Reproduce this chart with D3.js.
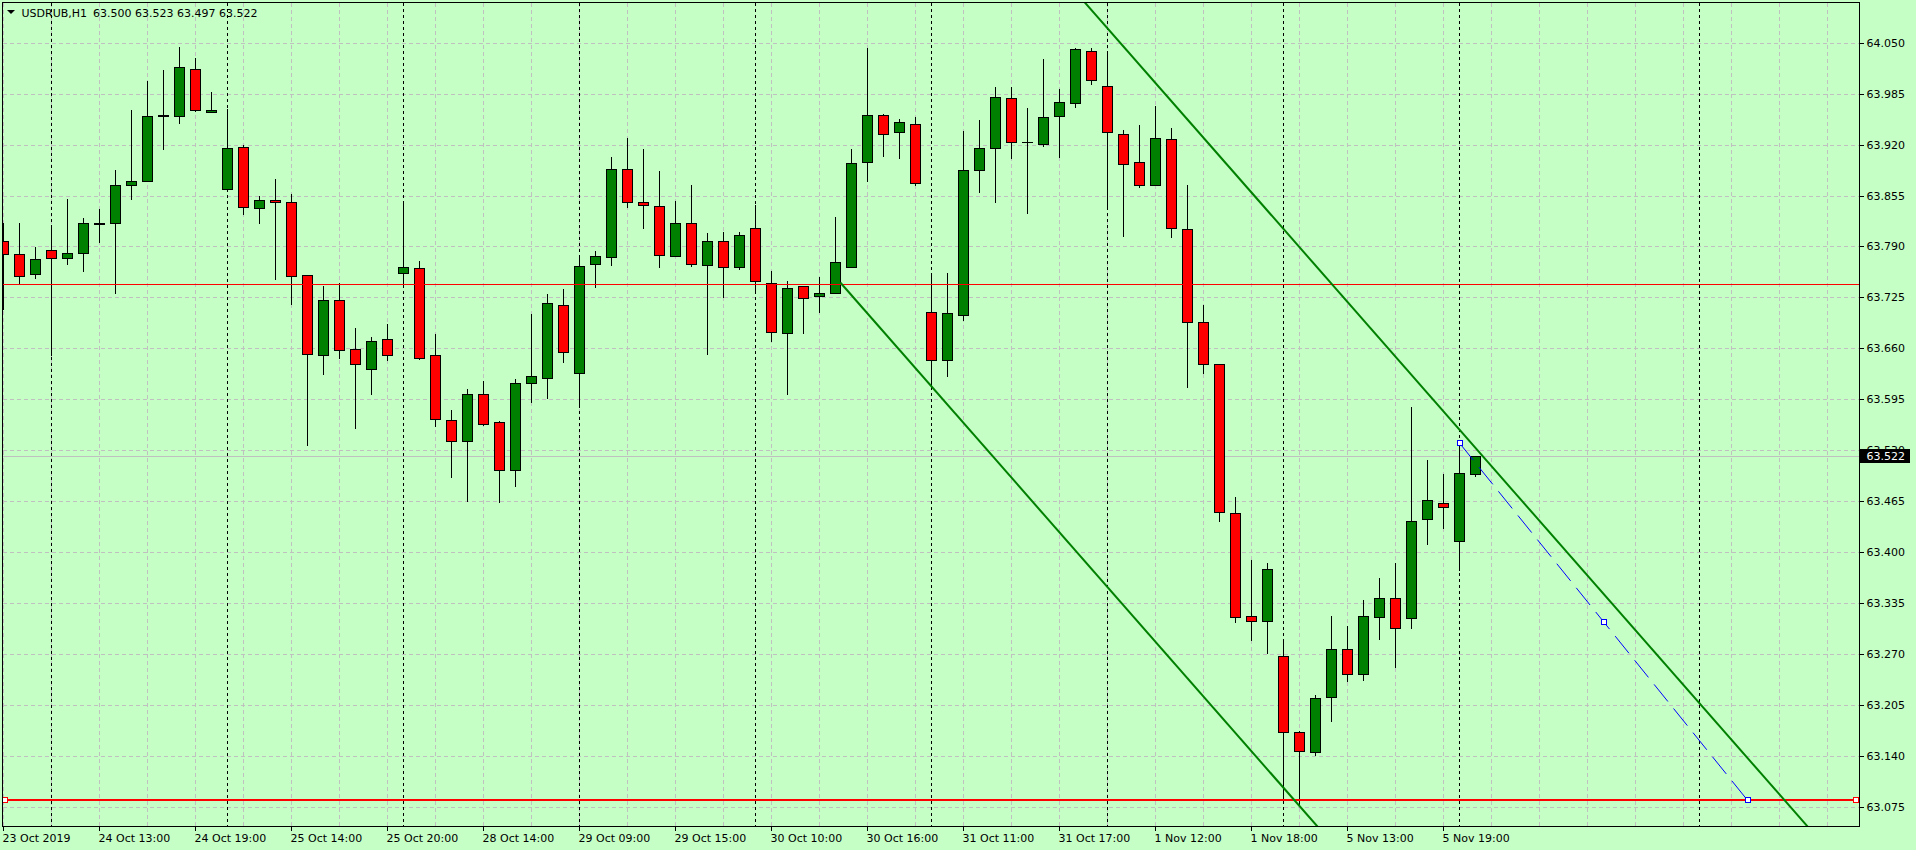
<!DOCTYPE html>
<html><head><meta charset="utf-8">
<script src="https://cdn.jsdelivr.net/npm/d3@7"></script>
<style>
html,body{margin:0;padding:0;background:#c6ffc6;overflow:hidden}
svg{display:block}
text{font-family:"DejaVu Sans",sans-serif;font-size:11px;fill:#000}
</style></head><body>
<svg id="chart" width="1916" height="850"></svg>
<script>
// ---------------- DATA ----------------
const symbolTitle = "USDRUB,H1";
const titleQuote = ["63.500", "63.523", "63.497", "63.522"];

const opens  = [63.797,63.780,63.755,63.786,63.775,63.782,63.819,63.820,63.869,63.874,
                63.957,63.957,64.016,63.962,63.863,63.917,63.839,63.849,63.847,63.754,
                63.652,63.721,63.659,63.634,63.672,63.756,63.763,63.652,63.568,63.542,
                63.601,63.566,63.505,63.616,63.622,63.715,63.628,63.767,63.777,63.889,
                63.847,63.842,63.778,63.820,63.766,63.797,63.764,63.813,63.743,63.679,
                63.739,63.727,63.730,63.764,63.898,63.958,63.936,63.946,63.706,63.645,
                63.703,63.887,63.916,63.980,63.923,63.921,63.957,63.973,64.040,63.995,
                63.933,63.898,63.868,63.927,63.812,63.693,63.640,63.450,63.318,63.312,
                63.267,63.170,63.145,63.215,63.276,63.244,63.317,63.341,63.316,63.442,
                63.463,63.414,63.500];
const highs  = [63.821,63.821,63.790,63.817,63.852,63.828,63.839,63.889,63.966,64.002,
                64.016,64.046,64.032,63.988,63.967,63.921,63.856,63.878,63.858,63.754,
                63.741,63.744,63.687,63.676,63.692,63.845,63.773,63.680,63.583,63.609,
                63.620,63.569,63.622,63.705,63.730,63.737,63.779,63.786,63.905,63.930,
                63.916,63.887,63.849,63.870,63.808,63.810,63.810,63.844,63.760,63.747,
                63.741,63.752,63.829,63.916,64.044,63.961,63.954,63.957,63.757,63.758,
                63.939,63.953,63.995,63.995,63.968,64.030,63.992,64.044,64.044,64.041,
                63.940,63.946,63.970,63.943,63.870,63.716,63.640,63.471,63.391,63.387,
                63.286,63.173,63.218,63.320,63.307,63.340,63.368,63.387,63.586,63.519,
                63.501,63.539,63.523];
const lows   = [63.710,63.743,63.750,63.651,63.768,63.759,63.796,63.730,63.851,63.874,
                63.914,63.947,63.963,63.962,63.863,63.832,63.820,63.748,63.716,63.537,
                63.627,63.648,63.558,63.602,63.645,63.738,63.646,63.561,63.496,63.465,
                63.562,63.464,63.484,63.591,63.596,63.643,63.586,63.738,63.766,63.840,
                63.813,63.764,63.778,63.765,63.653,63.725,63.761,63.732,63.669,63.602,
                63.680,63.706,63.730,63.764,63.874,63.905,63.903,63.869,63.613,63.625,
                63.696,63.860,63.847,63.903,63.833,63.918,63.904,63.968,63.997,63.838,
                63.803,63.866,63.868,63.802,63.611,63.629,63.440,63.310,63.287,63.271,
                63.085,63.077,63.141,63.184,63.235,63.236,63.289,63.253,63.303,63.410,
                63.430,63.377,63.497];
const closes = [63.780,63.752,63.774,63.775,63.782,63.820,63.820,63.869,63.874,63.957,
                63.958,64.019,63.964,63.964,63.916,63.841,63.849,63.847,63.752,63.653,
                63.722,63.658,63.640,63.669,63.651,63.764,63.648,63.570,63.542,63.601,
                63.563,63.505,63.616,63.624,63.718,63.655,63.765,63.778,63.889,63.847,
                63.843,63.779,63.820,63.768,63.797,63.764,63.804,63.746,63.681,63.737,
                63.724,63.730,63.770,63.896,63.958,63.934,63.949,63.871,63.645,63.705,
                63.888,63.916,63.981,63.923,63.923,63.955,63.975,64.042,64.002,63.936,
                63.895,63.868,63.928,63.813,63.694,63.640,63.451,63.317,63.312,63.378,
                63.170,63.146,63.214,63.276,63.244,63.318,63.341,63.303,63.439,63.466,
                63.458,63.501,63.522];

const timeLabelBars = [0, 6, 12, 18, 24, 30, 36, 42, 48, 54, 60, 66, 72, 78, 84, 90];
const timeLabels = ["23 Oct 2019", "24 Oct 13:00", "24 Oct 19:00", "25 Oct 14:00",
                    "25 Oct 20:00", "28 Oct 14:00", "29 Oct 09:00", "29 Oct 15:00",
                    "30 Oct 10:00", "30 Oct 16:00", "31 Oct 11:00", "31 Oct 17:00",
                    "1 Nov 12:00", "1 Nov 18:00", "5 Nov 13:00", "5 Nov 19:00"];
const separatorBars = [3, 14, 25, 36, 47, 58, 69, 80, 91, 106];
const gridBars = d3.range(0, 116, 3);
const priceTicks = [64.050, 63.985, 63.920, 63.855, 63.790, 63.725, 63.660, 63.595,
                    63.530, 63.465, 63.400, 63.335, 63.270, 63.205, 63.140, 63.075];
const bidPrice = 63.522;

// horizontal lines: [price, fromBar, toBar]
const thinRedLine = [63.742, -1, 120];
const thickRedLine = [63.083, 0.1, 115.8];
// equidistant channel: base line two anchors + offset
const channelBars = [52.3, 80];
const channelPrices = [63.744, 63.0989];
const channelOffset = 0.7134;
// blue dashed line points
const blueBars = [91, 100, 109];
const bluePrices = [63.539, 63.311, 63.083];

// ---------------- LAYOUT ----------------
const W = 1916, H = 850;
const plot = {l: 2.5, t: 2.5, r: 1859.5, b: 826.5};
const svg = d3.select("#chart");
svg.append("rect").attr("width", W).attr("height", H).attr("fill", "#c6ffc6");

const x = d3.scaleLinear().domain([0, 1]).range([3.5, 19.5]);
const y = d3.scaleLinear().domain([63.075, 64.050]).range([806.5, 42.8]);
const py = v => Math.round(y(v)) + 0.5;
const px = i => Math.round(x(i) - 0.5) + 0.5;

svg.append("clipPath").attr("id", "clip").append("rect")
  .attr("x", plot.l).attr("y", plot.t).attr("width", plot.r - plot.l).attr("height", plot.b - plot.t);
const g = svg.append("g").attr("clip-path", "url(#clip)");

// grid
g.selectAll(".hg").data(priceTicks).join("line")
  .attr("x1", plot.l).attr("x2", plot.r).attr("y1", d => py(d)).attr("y2", d => py(d))
  .attr("stroke", "#c0c0c0").attr("stroke-dasharray", "4,3").attr("shape-rendering", "crispEdges");
g.selectAll(".vg").data(gridBars).join("line")
  .attr("x1", d => px(d)).attr("x2", d => px(d)).attr("y1", plot.t).attr("y2", plot.b)
  .attr("stroke", "#c0c0c0").attr("stroke-dasharray", "4,3").attr("shape-rendering", "crispEdges");
// period separators
g.selectAll(".sep").data(separatorBars).join("line")
  .attr("x1", d => px(d)).attr("x2", d => px(d)).attr("y1", plot.t).attr("y2", plot.b)
  .attr("stroke", "#000").attr("stroke-dasharray", "3,3").attr("shape-rendering", "crispEdges");

// bid line
g.append("line").attr("x1", plot.l).attr("x2", plot.r).attr("y1", py(bidPrice)).attr("y2", py(bidPrice))
  .attr("stroke", "#c0c0c0").attr("shape-rendering", "crispEdges");

// candles
const candles = opens.map((o, i) => ({i, o, h: highs[i], l: lows[i], c: closes[i]}));
const cg = g.append("g").attr("shape-rendering", "crispEdges");
cg.selectAll(".wick").data(candles).join("line")
  .attr("x1", d => px(d.i)).attr("x2", d => px(d.i))
  .attr("y1", d => py(d.h)).attr("y2", d => py(d.l) + 0.5).attr("stroke", "#000");
candles.forEach(d => {
  const top = py(Math.max(d.o, d.c)), bot = py(Math.min(d.o, d.c));
  const cx = px(d.i);
  if (bot - top < 1.5) {
    cg.append("rect").attr("x", cx - 5.5).attr("y", top - 0.5).attr("width", 11).attr("height", Math.max(bot - top, 0) + 1)
      .attr("fill", d.c >= d.o ? "#000" : "#000");
    if (d.c < d.o) cg.append("rect").attr("x", cx - 4.5).attr("y", top).attr("width", 9).attr("height", 0.01);
  } else {
    cg.append("rect").attr("x", cx - 5).attr("y", top).attr("width", 10).attr("height", bot - top)
      .attr("fill", d.c >= d.o ? "#008000" : "#ff0000").attr("stroke", "#000");
  }
});

// horizontal red lines
g.append("line").attr("x1", x(thinRedLine[1])).attr("x2", x(thinRedLine[2]))
  .attr("y1", py(thinRedLine[0])).attr("y2", py(thinRedLine[0]))
  .attr("stroke", "#ff0000").attr("shape-rendering", "crispEdges");
g.append("line").attr("x1", x(thickRedLine[1])).attr("x2", x(thickRedLine[2]))
  .attr("y1", Math.round(y(thickRedLine[0]))).attr("y2", Math.round(y(thickRedLine[0])))
  .attr("stroke", "#ff0000").attr("stroke-width", 2).attr("shape-rendering", "crispEdges");
[thickRedLine[1], thickRedLine[2]].forEach(b => {
  g.append("rect").attr("x", Math.round(x(b)) - 2.5).attr("y", Math.round(y(thickRedLine[0])) - 2.5)
    .attr("width", 5).attr("height", 5).attr("fill", "#fff").attr("stroke", "#ff0000").attr("stroke-width", 1.5)
    .attr("shape-rendering", "crispEdges");
});

// channel
const slope = (channelPrices[1] - channelPrices[0]) / (channelBars[1] - channelBars[0]);
const endBar = 125;
[0, channelOffset].forEach(off => {
  g.append("line")
    .attr("x1", x(channelBars[0])).attr("y1", y(channelPrices[0] + off))
    .attr("x2", x(endBar)).attr("y2", y(channelPrices[0] + off + slope * (endBar - channelBars[0])))
    .attr("stroke", "#008000").attr("stroke-width", 2);
});

// blue dashed line
g.append("line")
  .attr("x1", x(blueBars[0])).attr("y1", y(bluePrices[0]))
  .attr("x2", x(blueBars[2])).attr("y2", y(bluePrices[2]))
  .attr("stroke", "#0000ff").attr("stroke-width", 1).attr("stroke-dasharray", "22,9");
blueBars.forEach((b, k) => {
  g.append("rect").attr("x", Math.round(x(b)) - 2.5).attr("y", Math.round(y(bluePrices[k])) - 2.5)
    .attr("width", 5).attr("height", 5).attr("fill", "#fff").attr("stroke", "#0000ff")
    .attr("shape-rendering", "crispEdges");
});

// border
svg.append("rect").attr("x", plot.l).attr("y", plot.t).attr("width", plot.r - plot.l).attr("height", plot.b - plot.t)
  .attr("fill", "none").attr("stroke", "#000").attr("shape-rendering", "crispEdges");

// price axis
const fmt = d3.format(".3f");
svg.selectAll(".ptick").data(priceTicks).join("line")
  .attr("x1", plot.r).attr("x2", plot.r + 4).attr("y1", d => py(d)).attr("y2", d => py(d))
  .attr("stroke", "#000").attr("shape-rendering", "crispEdges");
svg.selectAll(".plab").data(priceTicks).join("text")
  .attr("x", 1866.5).attr("y", d => y(d) + 4).text(d => fmt(d));
// current price box
svg.append("rect").attr("x", 1860).attr("y", Math.round(y(bidPrice)) - 7).attr("width", 50).attr("height", 14).attr("fill", "#000");
svg.append("text").attr("x", 1866.5).attr("y", y(bidPrice) + 4).attr("fill", "#fff").style("fill", "#fff").text(fmt(bidPrice));

// time axis
svg.selectAll(".ttick").data(timeLabelBars).join("line")
  .attr("x1", d => px(d)).attr("x2", d => px(d)).attr("y1", plot.b).attr("y2", plot.b + 4)
  .attr("stroke", "#000").attr("shape-rendering", "crispEdges");
svg.selectAll(".tlab").data(timeLabelBars).join("text")
  .attr("x", d => x(d) - 1).attr("y", 842).text((d, k) => timeLabels[k]);

// title
svg.append("path").attr("d", "M7,10 L15,10 L11,14 Z").attr("fill", "#000");
svg.append("text").attr("x", 21.5).attr("y", 17).text(symbolTitle);
svg.append("text").attr("x", 93).attr("y", 17).text(titleQuote.join(" "));
</script>
</body></html>
